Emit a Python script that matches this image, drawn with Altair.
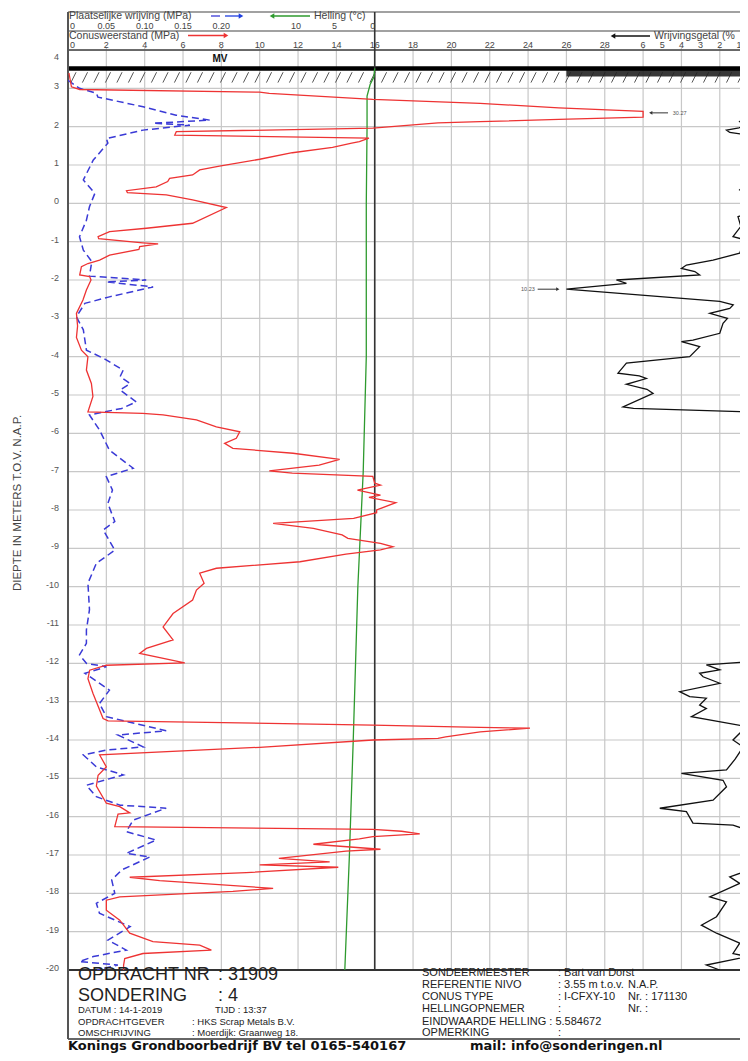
import altair as alt
import pandas as pd

# ---------------- layout constants ----------------
W, H = 672, 920                 # plot area (px); whole svg = 732 x 1045
QMAX = W / 19.17                # conus scale: 19.17 px per MPa
FONT = "Liberation Sans"

# ---------------- data ----------------
# Conusweerstand qc (MPa) versus depth (m t.o.v. NAP)
qc_depth = [3.40, 3.04, 2.97, 2.90, 2.87, 2.71, 2.61, 2.49, 2.40, 2.25,
            2.19, 2.13, 2.10, 1.96, 1.87, 1.78, 1.70, 1.61, 1.57, 1.46,
            1.32, 1.15, 0.97, 0.87, 0.74, 0.65, 0.57, 0.43, 0.33, 0.28,
            0.22, 0.09, -0.11, -0.52, -0.65, -0.74, -0.87, -0.92, -1.03, -1.06,
            -1.13, -1.20, -1.35, -1.48, -1.57, -1.65, -1.87, -1.91, -2.00, -2.26,
            -2.52, -2.87, -3.20, -3.50, -3.83, -4.00, -4.35, -4.70, -5.04, -5.44,
            -5.48, -5.52, -5.65, -5.83, -5.96, -6.13, -6.26, -6.39, -6.52, -6.68,
            -6.83, -6.98, -7.04, -7.12, -7.30, -7.35, -7.48, -7.61, -7.67, -7.81,
            -8.00, -8.07, -8.22, -8.35, -8.48, -8.65, -8.74, -8.87, -8.96, -9.04,
            -9.15, -9.35, -9.52, -9.65, -9.91, -10.09, -10.35, -10.70, -11.05, -11.39,
            -11.61, -11.74, -11.99, -12.05, -12.18, -12.40, -12.78, -13.44, -13.50, -13.61,
            -13.67, -13.69, -13.79, -13.92, -13.96, -14.00, -14.19, -14.39, -14.70, -14.92,
            -15.20, -15.65, -15.74, -15.90, -15.93, -16.26, -16.33, -16.38, -16.45, -16.52,
            -16.58, -16.72, -16.85, -16.90, -17.09, -17.18, -17.26, -17.32, -17.46, -17.58,
            -17.67, -17.87, -17.95, -18.09, -18.18, -18.44, -18.70, -19.04, -19.26, -19.35,
            -19.48, -19.57, -19.70, -19.87, -20.00]
qc_mpa = [0.05, 0.18, 0.61, 10.0, 10.5, 15.9, 21.5, 25.6, 30.27, 30.2,
          25.6, 21.5, 19.3, 15.9, 5.65, 5.57, 15.7, 15.2, 14.8, 13.8,
          11.7, 10.0, 7.9, 6.87, 6.5, 5.3, 5.2, 4.6, 3.05, 3.1,
          5.13, 6.5, 8.26, 6.5, 4.09, 2.17, 1.57, 1.6, 3.9, 4.7,
          3.74, 3.7, 2.17, 1.65, 1.04, 0.7, 0.61, 1.13, 1.2, 0.96,
          0.78, 0.44, 0.5, 0.44, 0.7, 1.04, 0.96, 1.22, 1.3, 1.04,
          3.9, 4.96, 6.7, 7.74, 8.96, 8.78, 8.17, 8.6, 11.74, 14.17,
          13.1, 10.5, 11.7, 15.9, 16.0, 16.3, 15.1, 16.3, 15.7, 17.1,
          16.1, 16.1, 14.9, 10.7, 12.8, 14.3, 14.6, 16.3, 16.95, 16.3,
          14.5, 12.1, 7.74, 6.87, 7.1, 6.7, 6.5, 5.48, 4.96, 5.48,
          4.09, 3.74, 6.09, 2.0, 1.13, 1.04, 1.3, 1.83, 2.09, 15.9,
          21.5, 24.1, 21.5, 19.7, 19.3, 15.9, 10.0, 1.65, 2.0, 1.57,
          1.48, 2.0, 2.7, 3.22, 2.61, 2.44, 15.9, 17.4, 18.35, 15.9,
          15.2, 12.8, 16.3, 14.5, 11.0, 13.65, 10.0, 14.1, 9.3, 3.22,
          4.78, 10.7, 8.6, 2.7, 2.0, 2.0, 2.7, 3.22, 4.43, 6.87,
          7.48, 3.91, 2.96, 2.9, 2.9]

# Plaatselijke wrijving fs (MPa)
fs_depth = [3.21, 3.00, 2.87, 2.77, 2.52, 2.30, 2.17, 2.09, 2.04, 1.91,
            1.69, 1.57, 1.13, 0.61, 0.26, -0.09, -0.44, -0.87, -1.22, -1.52,
            -1.90, -2.00, -2.05, -2.18, -2.44, -2.61, -2.96, -3.30, -3.83, -4.04,
            -4.35, -4.52, -4.70, -4.87, -5.18, -5.35, -5.52, -5.91, -6.44, -6.91,
            -7.13, -7.48, -7.83, -8.30, -8.52, -9.05, -9.39, -9.91, -10.60, -11.13,
            -11.48, -11.78, -12.00, -12.09, -12.26, -12.70, -13.05, -13.39, -13.76, -13.87,
            -14.18, -14.26, -14.39, -14.70, -14.91, -15.18, -15.48, -15.70, -15.78, -16.09,
            -16.39, -16.61, -16.96, -17.05, -17.39, -17.65, -18.00, -18.26, -18.52, -18.87,
            -19.22, -19.48, -19.65, -19.78, -19.87, -20.00]
fs_mpa = [0.0, 0.015, 0.037, 0.039, 0.098, 0.141, 0.185, 0.111, 0.159, 0.098,
          0.050, 0.052, 0.033, 0.020, 0.035, 0.028, 0.024, 0.015, 0.020, 0.031,
          0.028, 0.102, 0.050, 0.111, 0.054, 0.022, 0.011, 0.020, 0.024, 0.046,
          0.072, 0.068, 0.081, 0.068, 0.089, 0.070, 0.028, 0.041, 0.054, 0.085,
          0.050, 0.058, 0.052, 0.061, 0.046, 0.061, 0.037, 0.026, 0.028, 0.024,
          0.024, 0.015, 0.024, 0.050, 0.022, 0.054, 0.041, 0.050, 0.128, 0.065,
          0.098, 0.050, 0.020, 0.037, 0.072, 0.024, 0.037, 0.068, 0.128, 0.085,
          0.076, 0.115, 0.076, 0.107, 0.070, 0.057, 0.061, 0.037, 0.041, 0.081,
          0.052, 0.076, 0.033, 0.015, 0.065, 0.038]

# Wrijvingsgetal Rf (%)
rf_depth = [3.40, 2.50, 2.30, 2.13, 2.05, 1.97, 1.91, 1.85, 1.78, 1.20,
            0.52, 0.35, 0.22, -0.22, -0.35, -0.60, -0.87, -0.95, -1.30, -1.48,
            -1.61, -1.70, -1.78, -1.87, -2.00, -2.09, -2.24, -2.56, -2.65, -2.74,
            -2.87, -3.00, -3.13, -3.39, -3.57, -3.61, -3.74, -4.00, -4.17, -4.43,
            -4.50, -4.57, -4.72, -4.85, -4.96, -5.31, -5.35, -5.44, -6.00, -6.80,
            -7.50, -8.20, -9.00, -10.00, -10.80, -11.50, -11.96, -12.04, -12.17, -12.26,
            -12.35, -12.52, -12.74, -12.87, -12.91, -13.09, -13.18, -13.39, -13.65, -14.00,
            -14.18, -14.50, -14.78, -14.87, -15.05, -15.22, -15.57, -15.78, -15.87, -16.17,
            -16.22, -16.35, -17.00, -17.40, -17.57, -17.74, -18.09, -18.22, -18.61, -18.83,
            -19.04, -19.30, -19.57, -19.65, -19.87, -20.00]
rf_pct = [0.3, 0.3, 0.54, 0.96, 0.6, 1.0, 1.65, 1.48, 0.54, 0.3,
          0.54, 0.96, 0.54, 0.4, 1.05, 0.9, 1.31, 0.7, 0.96, 2.35,
          3.74, 4.0, 3.3, 3.05, 7.39, 6.87, 10.23, 2.0, 1.3, 1.48,
          2.52, 1.6, 1.83, 2.0, 3.4, 4.0, 3.05, 3.57, 6.87, 7.31,
          6.2, 5.83, 6.87, 5.8, 5.48, 7.05, 6.5, 0.54, 0.4, 0.6,
          0.45, 0.65, 0.4, 0.6, 0.45, 0.55, 0.6, 2.7, 2.0, 3.05,
          2.87, 2.0, 4.09, 3.57, 2.7, 3.05, 2.7, 3.48, 0.61, 1.31,
          0.78, 1.2, 1.65, 4.0, 1.83, 1.65, 2.35, 5.13, 3.74, 3.4,
          1.31, 0.54, 0.4, 0.5, 1.48, 0.96, 2.52, 1.65, 2.17, 2.96,
          2.17, 0.96, 1.31, 0.54, 2.7, 2.0]

# Helling (degrees)
hel_depth = [3.52, 3.30, 3.10, 2.80, 2.00, 0.00, -4.00, -7.00, -10.00, -12.00, -14.00, -17.00, -20.00]
hel_deg = [0.0, 0.1, 0.6, 1.0, 1.0, 1.1, 1.1, 1.5, 2.2, 2.5, 2.8, 3.3, 3.9]

# tick labels / grid
conus_ticks = [2, 4, 6, 8, 10, 12, 14, 16, 18, 20, 22, 24, 26, 28]
conus_grid = list(range(2, 37, 2))
fs_ticks = [0.05, 0.10, 0.15, 0.20]
fs_tick_text = ["0.05", "0.10", "0.15", "0.20"]
hel_ticks = [10, 5, 0]
rf_ticks = [6, 5, 4, 3, 2, 1]
depth_grid = list(range(-20, 5))
depth_labels = list(range(-20, 4))

QC_CLIP = 30        # conus axis ends at 30 MPa
RF_CLIP = 10        # friction ratio axis: 0..10 %
SURFACE = 3.52      # maaiveld

# ---------------- helpers ----------------
xs = alt.Scale(domain=[0, QMAX], nice=False, zero=False)
ys = alt.Scale(domain=[-20, 4], nice=False, zero=False)
ONE = pd.DataFrame({"k": [0]})


def X(f="q"):
    return alt.X(f"{f}:Q", scale=xs, axis=None)


def Y(f="depth"):
    return alt.Y(f"{f}:Q", scale=ys, axis=None)


def txt(s, x, y, size=9, weight="normal", align="left", color="#222", font=FONT):
    return alt.Chart(ONE).mark_text(text=s, align=align, baseline="middle", fontSize=size,
                                    fontWeight=weight, font=font, color=color).encode(
        x=alt.value(x), y=alt.value(y))


def hline(y, x0=0, x1=W, color="#444", width=1.2):
    return alt.Chart(ONE).mark_rule(color=color, strokeWidth=width).encode(
        x=alt.value(x0), x2=alt.value(x1), y=alt.value(y))


def vline(x, y0, y1, color="#444", width=1.2):
    return alt.Chart(ONE).mark_rule(color=color, strokeWidth=width).encode(
        x=alt.value(x), y=alt.value(y0), y2=alt.value(y1))


def arrow(x0, x1, y, color, head):
    line = alt.Chart(ONE).mark_rule(color=color, strokeWidth=1.3).encode(
        x=alt.value(x0), x2=alt.value(x1), y=alt.value(y))
    hx = x1 if head == "right" else x0
    tip = alt.Chart(ONE).mark_point(shape="triangle-" + head, filled=True, size=28,
                                    color=color, opacity=1).encode(x=alt.value(hx), y=alt.value(y))
    return [line, tip]


layers = []

# ---------------- grid ----------------
layers.append(alt.Chart(pd.DataFrame({"q": conus_grid}))
              .mark_rule(color="#c8c8c8", strokeWidth=1.2, clip=False)
              .transform_filter(f"datum.q <= {QMAX}")
              .encode(x=X("q"), y=alt.value(-3), y2=alt.value(H)))
layers.append(alt.Chart(pd.DataFrame({"depth": depth_grid}))
              .mark_rule(color="#c8c8c8", strokeWidth=1.2)
              .encode(y=Y("depth"), x=alt.value(0), x2=alt.value(W)))
layers.append(alt.Chart(pd.DataFrame({"depth": depth_labels}))
              .mark_text(align="right", baseline="middle", fontSize=9, color="#555", font=FONT, dy=-2)
              .encode(y=Y("depth"), x=alt.value(-9), text="depth:N"))
layers.append(txt("4", -9, 7, 9, align="right", color="#555"))
layers.append(alt.Chart(ONE).mark_text(text="DIEPTE IN METERS T.O.V.    N.A.P.", angle=270,
                                       align="center", baseline="middle", fontSize=11.5,
                                       color="#444", font=FONT)
              .encode(x=alt.value(-50), y=alt.value(453)))

# surface: hatch + thick bar + dark band in ratio panel
hatch = pd.DataFrame({"q": [round(0.15 + 0.6 * i, 2) for i in range(60)]})
layers.append(alt.Chart(hatch).transform_calculate(q2="datum.q + 0.27", d1="3.15", d2="3.42")
              .mark_rule(color="#555", strokeWidth=1, clip=True)
              .encode(x=X("q"), x2="q2:Q", y=Y("d1"), y2="d2:Q"))
layers.append(alt.Chart(pd.DataFrame({"q": [26.0], "q2": [36.0], "d1": [3.52], "d2": [3.31]}))
              .mark_rect(color="#222", opacity=0.9, clip=True)
              .encode(x=X("q"), x2="q2:Q", y=Y("d1"), y2="d2:Q"))
layers.append(alt.Chart(pd.DataFrame({"q": [0.0], "q2": [36.0], "depth": [SURFACE]}))
              .mark_rule(color="#000", strokeWidth=4.5, clip=True)
              .encode(x=X("q"), x2="q2:Q", y=Y("depth")))

# frame lines
layers += [
    hline(-38), hline(-19), hline(0, color="#444", width=1.4),
    hline(H, color="#333", width=2), hline(989, color="#333", width=1.3),
    vline(0, -38, 989, color="#555", width=2),
]
layers.append(alt.Chart(pd.DataFrame({"q": [16.0]})).mark_rule(color="#333", strokeWidth=1.6)
              .encode(x=X("q"), y=alt.value(-38), y2=alt.value(H)))

# ---------------- curves ----------------
hel = pd.DataFrame({"depth": hel_depth, "deg": hel_deg, "i": range(len(hel_deg))})
layers.append(alt.Chart(hel).transform_calculate(q="16 - 0.4 * datum.deg")
              .mark_line(color="#2e9a2e", strokeWidth=1.3, clip=True)
              .encode(x=X("q"), y=Y("depth"), order="i:Q"))

fs = pd.DataFrame({"depth": fs_depth, "fs": fs_mpa, "i": range(len(fs_mpa))})
layers.append(alt.Chart(fs).transform_calculate(q="datum.fs * 40")
              .mark_line(color="#3a3ad6", strokeWidth=1.5, strokeDash=[7, 4], clip=True)
              .encode(x=X("q"), y=Y("depth"), order="i:Q"))

rf = pd.DataFrame({"depth": rf_depth, "rf": rf_pct, "i": range(len(rf_pct))})
layers.append(alt.Chart(rf).transform_calculate(q=f"36 - min(datum.rf, {RF_CLIP})")
              .mark_line(color="#111", strokeWidth=1.3, clip=True)
              .encode(x=X("q"), y=Y("depth"), order="i:Q"))

qc = pd.DataFrame({"depth": qc_depth, "qc": qc_mpa, "i": range(len(qc_mpa))})
layers.append(alt.Chart(qc).transform_calculate(q=f"min(datum.qc, {QC_CLIP})")
              .mark_line(color="#ee3333", strokeWidth=1.3, clip=True)
              .encode(x=X("q"), y=Y("depth"), order="i:Q"))

# clipped-peak annotations
qc_peak = pd.DataFrame({"v": [max(qc_mpa)], "depth": [qc_depth[qc_mpa.index(max(qc_mpa))] - 0.04]})
qa = alt.Chart(qc_peak).transform_calculate(
    q1=f"{QC_CLIP} + 0.4", q2=f"{QC_CLIP} + 1.3", qt=f"{QC_CLIP} + 1.55", lab="format(datum.v, '.2f')")
layers += [
    qa.mark_rule(color="#333", strokeWidth=1).encode(x=X("q1"), x2="q2:Q", y=Y("depth")),
    qa.mark_point(shape="triangle-left", filled=True, size=14, color="#333", opacity=1)
      .encode(x=X("q1"), y=Y("depth")),
    qa.mark_text(align="left", baseline="middle", fontSize=5.5, color="#555", font=FONT)
      .encode(x=X("qt"), y=Y("depth"), text="lab:N"),
]
rf_peak = pd.DataFrame({"v": [max(rf_pct)], "depth": [rf_depth[rf_pct.index(max(rf_pct))]]})
ra = alt.Chart(rf_peak).transform_calculate(
    q1=f"36 - {RF_CLIP} - 1.5", q2=f"36 - {RF_CLIP} - 0.45", qt=f"36 - {RF_CLIP} - 1.65",
    lab="format(datum.v, '.2f')")
layers += [
    ra.mark_rule(color="#333", strokeWidth=1).encode(x=X("q1"), x2="q2:Q", y=Y("depth")),
    ra.mark_point(shape="triangle-right", filled=True, size=14, color="#333", opacity=1)
      .encode(x=X("q2"), y=Y("depth")),
    ra.mark_text(align="right", baseline="middle", fontSize=5.5, color="#555", font=FONT)
      .encode(x=X("qt"), y=Y("depth"), text="lab:N"),
]

# ---------------- header ----------------
layers.append(txt("Plaatselijke wrijving (MPa)", 1, -34, 10.5, color="#444"))
layers.append(alt.Chart(ONE).mark_rule(color="#3a3ad6", strokeWidth=1.3).encode(
    x=alt.value(143), x2=alt.value(152), y=alt.value(-34)))
layers += arrow(157, 173, -34, "#1f3fe0", "right")
layers += arrow(204, 242, -34, "#2e9a2e", "left")
layers.append(txt("Helling (°c)", 246, -34, 10.5, color="#444"))
layers.append(txt("Conusweerstand (MPa)", 1, -14.5, 10.5, color="#444"))
layers += arrow(120, 158, -14.5, "#ee3333", "right")
layers += arrow(545, 582, -14, "#111", "left")
layers.append(txt("Wrijvingsgetal (%", 586, -14, 10.5, color="#444"))

layers.append(txt("0", 2, -24.5, 9, color="#444"))
fs_t = pd.DataFrame({"v": fs_ticks, "t": fs_tick_text})
layers.append(alt.Chart(fs_t).transform_calculate(q="datum.v * 40")
              .mark_text(fontSize=9, color="#444", font=FONT, baseline="middle")
              .encode(x=X("q"), y=alt.value(-24.5), text="t:N"))
hel_t = pd.DataFrame({"v": hel_ticks})
layers.append(alt.Chart(hel_t).transform_calculate(q="16 - 0.4 * datum.v")
              .mark_text(fontSize=9, color="#444", font=FONT, baseline="middle", dx=-2)
              .encode(x=X("q"), y=alt.value(-24.5), text="v:N"))
layers.append(txt("0", 2, -5, 9, color="#444"))
con_t = pd.DataFrame({"q": conus_ticks})
layers.append(alt.Chart(con_t).mark_text(fontSize=9, color="#444", font=FONT, baseline="middle")
              .encode(x=X("q"), y=alt.value(-5), text="q:N"))
rf_t = pd.DataFrame({"v": rf_ticks})
layers.append(alt.Chart(rf_t).transform_calculate(q="36 - datum.v")
              .mark_text(fontSize=9, color="#444", font=FONT, baseline="middle")
              .encode(x=X("q"), y=alt.value(-5), text="v:N"))
layers.append(txt("MV", 152, 9, 10, weight="bold", align="center", color="#111"))

# ---------------- footer ----------------
layers += [
    txt("OPDRACHT NR", 10, 925, 18),
    txt(":  31909", 150, 925, 18),
    txt("SONDERING", 10, 946, 18),
    txt(":  4", 150, 946, 18),
    txt("DATUM  :  14-1-2019", 10, 960, 9.5),
    txt("TIJD    :  13:37", 147, 960, 9.5),
    txt("OPDRACHTGEVER", 10, 972, 9.5),
    txt(":  HKS Scrap Metals B.V.", 124, 972, 9.5),
    txt("OMSCHRIJVING", 10, 983, 9.5),
    txt(":  Moerdijk: Graanweg 18.", 124, 983, 9.5),
    txt("SONDEERMEESTER", 354, 923, 11),
    txt(":  Bart van Dorst", 490, 923, 11),
    txt("REFERENTIE NIVO", 354, 935, 11),
    txt(":  3.55    m t.o.v.", 490, 935, 11),
    txt("N.A.P.", 560, 935, 11),
    txt("CONUS TYPE", 354, 947, 11),
    txt(":  I-CFXY-10", 490, 947, 11),
    txt("Nr. :   171130", 560, 947, 11),
    txt("HELLINGOPNEMER", 354, 959, 11),
    txt(":", 490, 959, 11),
    txt("Nr. :", 560, 959, 11),
    txt("EINDWAARDE HELLING :  5.584672", 354, 972, 11),
    txt("OPMERKING", 354, 983, 11),
    txt(":", 490, 983, 11),
    txt("Konings Grondboorbedrijf BV tel 0165-540167", 0, 996, 13, weight="bold",
        color="#111", font="DejaVu Sans"),
    txt("mail: info@sonderingen.nl", 402, 996, 13, weight="bold", color="#111",
        font="DejaVu Sans"),
]

chart = alt.layer(*layers).properties(
    width=W, height=H,
    autosize=alt.AutoSizeParams(type="none"),
    padding={"left": 60, "top": 42, "right": 0, "bottom": 83},
    background="white",
).configure_view(stroke=None).configure(font=FONT)

chart.save("out.html", embed_options={"renderer": "svg", "actions": False})
